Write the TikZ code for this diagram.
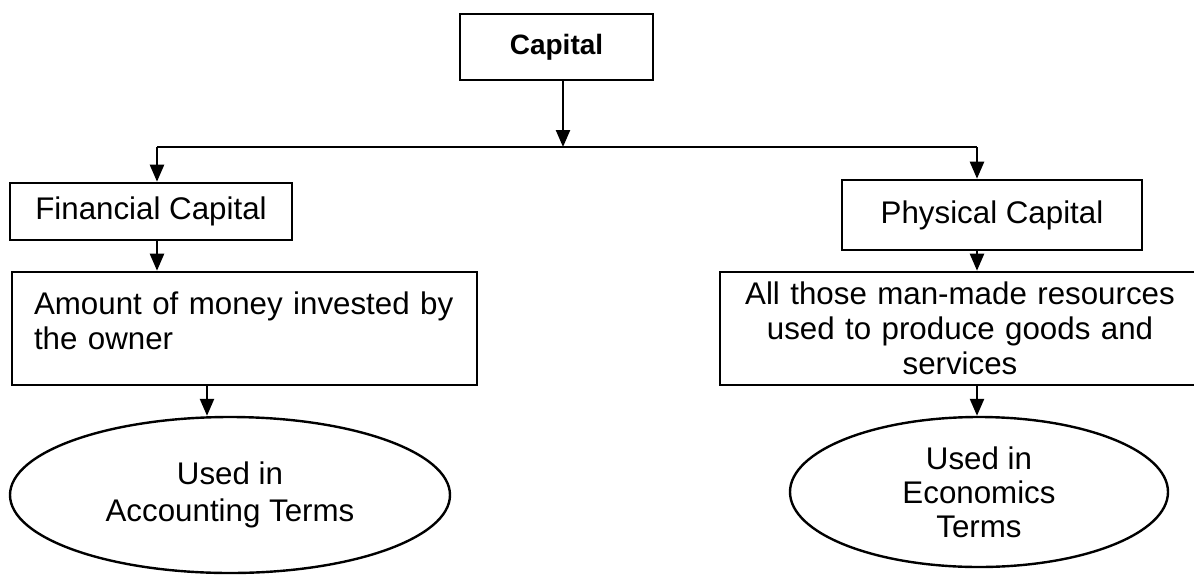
\documentclass[tikz,border=0pt]{standalone}
\usepackage{fontspec}
\setmainfont{Liberation Sans}
\usetikzlibrary{shapes.geometric,arrows.meta}
\begin{document}
\begin{tikzpicture}[x=1pt,y=-1pt,
  every node/.style={font=\fontsize{31.3}{35}\selectfont},
  boxnode/.style={draw,line width=2.6pt,rectangle,inner sep=0pt},
  ellnode/.style={draw,line width=2.4pt,ellipse,inner sep=0pt,align=center},
  arr/.style={line width=2.4pt,-{Triangle[length=17pt,width=14pt]}},
  conn/.style={line width=2.4pt}]
\useasboundingbox (0,0) rectangle (1194,576);
\fill[white] (0,0) rectangle (1194,576);
\node[boxnode,minimum width=193pt,minimum height=66pt,font=\fontsize{28}{34}\selectfont\bfseries] (cap) at (556.5,47) {Capital};
\node[boxnode,minimum width=282pt,minimum height=57pt] (fin) at (151,211.5) {Financial Capital};
\node[boxnode,minimum width=465pt,minimum height=113pt] (amt) at (244.5,328.5) {};
\node[inner sep=0pt,text width=421pt,align=left] (amtt) at (244.5,321) {Amount of money invested by\\the owner};
\node[boxnode,minimum width=300pt,minimum height=70pt,fill=white] (phy) at (992,215) {Physical Capital};
\node[boxnode,minimum width=480pt,minimum height=113pt,text width=470pt,align=center] (res) at (960,328.5) {All those man-made resources\\used to produce goods and\\services};
\node[ellnode,minimum width=440pt,minimum height=156pt,font=\fontsize{31.3}{37}\selectfont] (acc) at (230,495) {Used in\\Accounting Terms};
\node[ellnode,minimum width=378pt,minimum height=150pt,font=\fontsize{31.3}{34}\selectfont] (eco) at (979,492) {Used in\\Economics\\Terms};
\coordinate (j) at (563,147);
\coordinate (jl) at (157,147);
\coordinate (jr) at (977,147);
\coordinate (al) at (207,147);
\draw[arr] (cap.south -| j) -- (j);
\draw[conn] (jl) -- (jr);
\draw[arr] (jl) -- (jl |- fin.north);
\draw[arr] (jr) -- (jr |- phy.north);
\draw[arr] (fin.south -| jl) -- (amt.north -| jl);
\draw[arr] (amt.south -| al) -- (acc.north -| al);
\draw[arr] (phy.south -| jr) -- (res.north -| jr);
\draw[arr] (res.south -| jr) -- (eco.north -| jr);
\end{tikzpicture}
\end{document}
